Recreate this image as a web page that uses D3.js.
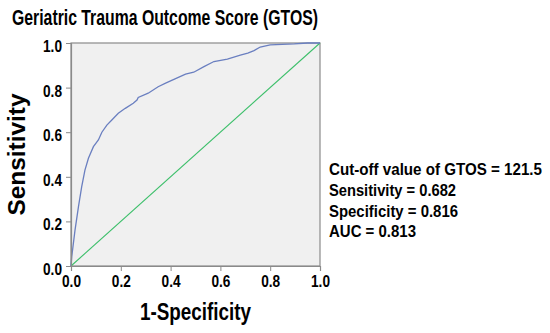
<!DOCTYPE html>
<html>
<head>
<meta charset="utf-8">
<script src="https://cdn.jsdelivr.net/npm/d3@7/dist/d3.min.js"></script>
<style>
  body { margin: 0; background: #fff; }
  text { font-family: "Liberation Sans", Arial, sans-serif; font-weight: bold; fill: #000; }
</style>
</head>
<body>
<div id="chart"></div>
<script>
// ROC curve (1-specificity, sensitivity)
const fpr  = [0, 0.003, 0.016, 0.03, 0.043, 0.056, 0.07, 0.09, 0.11, 0.124, 0.144, 0.164, 0.19, 0.218, 0.25, 0.265, 0.27, 0.31, 0.35, 0.38, 0.42, 0.46, 0.493, 0.534, 0.574, 0.628, 0.68, 0.71, 0.735, 0.76, 0.80, 0.897, 0.95, 1]
const sens = [0, 0.042, 0.16, 0.266, 0.356, 0.43, 0.483, 0.535, 0.565, 0.60, 0.632, 0.655, 0.685, 0.707, 0.73, 0.744, 0.756, 0.775, 0.804, 0.82, 0.84, 0.86, 0.869, 0.894, 0.917, 0.928, 0.946, 0.955, 0.966, 0.982, 0.992, 0.996, 1, 1]
const ticks = [0, 0.2, 0.4, 0.6, 0.8, 1.0]
const notes = ["Cut-off value of GTOS = 121.5", "Sensitivity = 0.682", "Specificity = 0.816", "AUC = 0.813"]
const noteWidths = [213, 127, 129, 87]

const width = 550, height = 333
const plot = { left: 71, top: 43, right: 320, bottom: 266 }

const svg = d3.select('#chart').append('svg')
    .attr('width', width)
    .attr('height', height)

const x = d3.scaleLinear().domain([0, 1]).range([plot.left, plot.right])
const y = d3.scaleLinear().domain([0, 1]).range([plot.bottom, plot.top])

svg.append('rect')
    .attr('x', plot.left).attr('y', plot.top)
    .attr('width', plot.right - plot.left).attr('height', plot.bottom - plot.top)
    .style('fill', '#f0f0f0')
    .style('stroke', '#8a8a8a')
    .style('stroke-width', 1.2)

// diagonal reference
svg.append('line')
    .attr('x1', x(0)).attr('y1', y(0))
    .attr('x2', x(1)).attr('y2', y(1))
    .style('stroke', '#3cbf6a')
    .style('stroke-width', 1.1)

const line = d3.line()
    .x((d, i) => x(fpr[i]))
    .y(d => y(d))

svg.append('path')
    .datum(sens)
    .attr('d', line)
    .style('fill', 'none')
    .style('stroke', '#6a7fc0')
    .style('stroke-width', 1.3)

const fmt = d3.format('.1f')

// narrow look: squeeze glyphs to the widths seen in the picture
const squeeze = (sel, w) => sel.attr('textLength', w).attr('lengthAdjust', 'spacingAndGlyphs')

const xAxis = svg.append('g')
    .attr('transform', `translate(0,${plot.bottom})`)
    .call(d3.axisBottom(x).tickValues(ticks).tickFormat(fmt).tickSize(5).tickPadding(4))
xAxis.selectAll('text').style('font-size', '17px').call(squeeze, 19)

const yAxis = svg.append('g')
    .attr('transform', `translate(${plot.left},0)`)
    .call(d3.axisLeft(y).tickValues(ticks).tickFormat(fmt).tickSize(5).tickPadding(4))
yAxis.selectAll('text').style('font-size', '17px').attr('dy', '0.5em').call(squeeze, 19)

svg.selectAll('.domain').style('stroke', '#8a8a8a').style('stroke-width', 1.2)
svg.selectAll('.tick line').style('stroke', '#8a8a8a')

svg.append('text')
    .attr('x', 12).attr('y', 25)
    .style('font-size', '22px')
    .text('Geriatric Trauma Outcome Score (GTOS)')
    .call(squeeze, 306)

svg.append('text')
    .attr('x', (plot.left + plot.right) / 2).attr('y', 320)
    .attr('text-anchor', 'middle')
    .style('font-size', '24px')
    .text('1-Specificity')
    .call(squeeze, 111)

svg.append('text')
    .attr('transform', `translate(25,${(plot.top + plot.bottom) / 2}) rotate(-90)`)
    .attr('text-anchor', 'middle')
    .style('font-size', '24px')
    .text('Sensitivity')
    .call(squeeze, 122)

svg.selectAll('.note')
    .data(notes)
    .enter()
    .append('text')
    .attr('class', 'note')
    .attr('x', 329)
    .attr('y', (d, i) => 175 + i * 20.8)
    .style('font-size', '17px')
    .text(d => d)
    .attr('textLength', (d, i) => noteWidths[i])
    .attr('lengthAdjust', 'spacingAndGlyphs')
</script>
</body>
</html>
